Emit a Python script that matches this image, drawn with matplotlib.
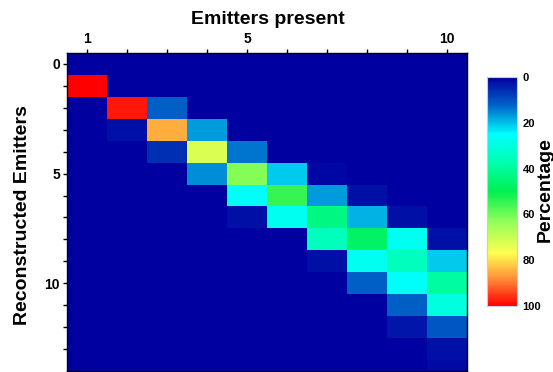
import numpy as np
import matplotlib
matplotlib.use("Agg")
import matplotlib.pyplot as plt
from matplotlib.colors import LinearSegmentedColormap

plt.rcParams['font.family'] = ['Liberation Sans', 'DejaVu Sans']
plt.rcParams['font.weight'] = 'bold'

# Emitters present (columns) and reconstructed emitter counts (rows)
emitters_present = [1, 2, 3, 4, 5, 6, 7, 8, 9, 10]
reconstructed = list(range(0, 15))

# Percentage of reconstructions per (reconstructed row, present column)
col_1 = {1: 100}
col_2 = {2: 98, 3: 2}
col_3 = {2: 12, 3: 85, 4: 6}
col_4 = {3: 17, 4: 72, 5: 16}
col_5 = {4: 14, 5: 62, 6: 26, 7: 2}
col_6 = {5: 21, 6: 55, 7: 27}
col_7 = {5: 1, 6: 17, 7: 43, 8: 35, 9: 2}
col_8 = {6: 2, 7: 19, 8: 47, 9: 27, 10: 12}
col_9 = {7: 2, 8: 27, 9: 35, 10: 26, 11: 12, 12: 3}
col_10 = {8: 2, 9: 21, 10: 39, 11: 30, 12: 11, 13: 2, 14: 1.5}
columns = [col_1, col_2, col_3, col_4, col_5, col_6, col_7, col_8, col_9, col_10]

matrix = np.zeros((len(reconstructed), len(emitters_present)))
for j, col in enumerate(columns):
    for row, val in col.items():
        matrix[row, j] = val

cmap = LinearSegmentedColormap.from_list(
    "rainbow_pct",
    [(0.0, '#0000A0'), (0.12, '#0060C8'), (0.25, '#00FFFF'),
     (0.37, '#00FFB0'), (0.5, '#00F050'), (0.63, '#90FF58'),
     (0.77, '#FFFF50'), (0.88, '#FF9038'), (1.0, '#FF0000')])

W, H = 553, 372
fig = plt.figure(figsize=(W / 100, H / 100), dpi=100)
ax = fig.add_axes([67 / W, (H - 371) / H, 400 / W, 318 / H])
im = ax.imshow(matrix, cmap=cmap, vmin=0, vmax=100, aspect='auto',
               interpolation='nearest',
               extent=[0.5, 10.5, 14.5, -0.5])
ax.set_xlim(0.5, 10.5)
ax.set_ylim(14.0, -0.5)

ax.xaxis.tick_top()
ax.set_xticks(emitters_present)
ax.set_xticklabels(['1', '', '', '', '5', '', '', '', '', '10'])
ax.set_yticks(reconstructed[:14])
ax.set_yticklabels(['0', '', '', '', '', '5', '', '', '', '', '10', '', '', ''])
ax.tick_params(axis='both', length=3, width=1, labelsize=10, pad=2)
for s in ax.spines.values():
    s.set_linewidth(1)

fig.text(268 / W, 1 - 24 / H, 'Emitters present', fontsize=14,
         fontweight='bold', ha='center', va='baseline')
fig.text(23 / W, 1 - 215 / H, 'Reconstructed Emitters', fontsize=14,
         fontweight='bold', ha='center', va='center', rotation=90)

cax = fig.add_axes([487 / W, (H - 306) / H, 30 / W, 229 / H])
cb = fig.colorbar(im, cax=cax)
cb.set_ticks([0, 20, 40, 60, 80, 100])
cax.invert_yaxis()
cax.tick_params(length=0, labelsize=8, pad=4)
cb.outline.set_edgecolor('#C8C8F0')
cb.outline.set_linewidth(0.8)
fig.text(545 / W, 1 - 190 / H, 'Percentage', fontsize=14,
         fontweight='bold', ha='center', va='center', rotation=90)

fig.savefig('out.png', dpi=100)
